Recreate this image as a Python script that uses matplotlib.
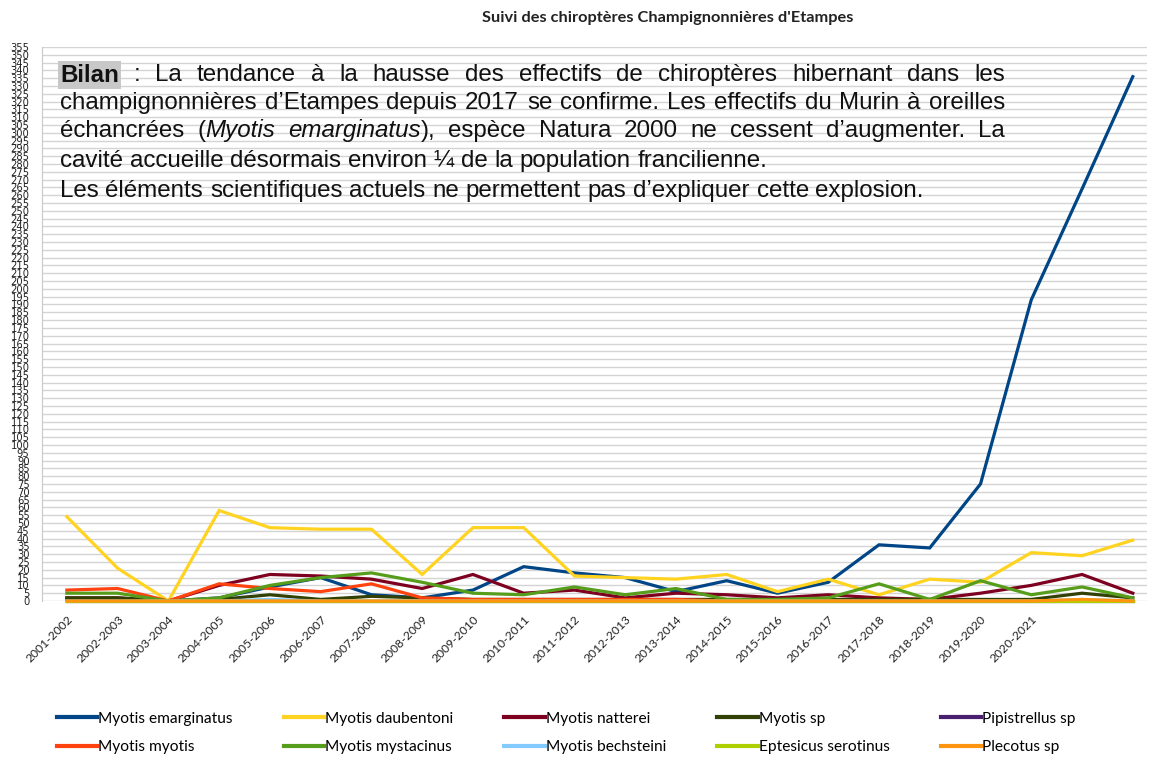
import numpy as np
import matplotlib.pyplot as plt

# Data
seasons = ['2001-2002', '2002-2003', '2003-2004', '2004-2005', '2005-2006', '2006-2007',
           '2007-2008', '2008-2009', '2009-2010', '2010-2011', '2011-2012', '2012-2013',
           '2013-2014', '2014-2015', '2015-2016', '2016-2017', '2017-2018', '2018-2019',
           '2019-2020', '2020-2021', '', '']
emarginatus = [1, 1, 0, 2, 9, 15, 4, 2, 7, 22, 18, 15, 6, 13, 5, 12, 36, 34, 75, 193, 264, 336]
daubentoni = [54, 21, 0, 58, 47, 46, 46, 17, 47, 47, 16, 15, 14, 17, 6, 14, 4, 14, 12, 31, 29, 39]
natterei = [2, 2, 0, 10, 17, 16, 14, 8, 17, 5, 7, 2, 5, 4, 2, 4, 2, 1, 5, 10, 17, 5]
myotis_sp = [2, 2, 0, 1, 4, 1, 3, 2, 1, 1, 1, 1, 1, 1, 1, 1, 1, 1, 1, 1, 5, 2]
pipistrellus = [0, 0, 0, 0, 0, 0, 0, 0, 0, 0, 0, 0, 0, 0, 0, 0, 0, 0, 0, 0, 0, 0]
myotis_myotis = [7, 8, 0, 11, 8, 6, 11, 2, 1, 1, 1, 1, 1, 0, 0, 0, 0, 0, 0, 0, 0, 0]
mystacinus = [5, 5, 0, 2, 10, 15, 18, 12, 5, 4, 9, 4, 8, 1, 1, 2, 11, 1, 13, 4, 9, 2]
bechsteini = [0, 0, 0, 0, 1, 0, 0, 0, 0, 0, 0, 0, 0, 0, 0, 0, 0, 0, 0, 0, 1, 0]
eptesicus = [0, 0, 0, 0, 0, 0, 0, 0, 0, 0, 0, 0, 0, 0, 0, 0, 0, 0, 0, 0, 0, 0]
plecotus = [0, 0, 0, 0, 0, 0, 0, 0, 0, 0, 0, 0, 0, 0, 0, 0, 0, 0, 0, 0, 1, 0]

names = ['Myotis emarginatus', 'Myotis daubentoni', 'Myotis natterei', 'Myotis sp',
         'Pipistrellus sp', 'Myotis myotis', 'Myotis mystacinus', 'Myotis bechsteini',
         'Eptesicus serotinus', 'Plecotus sp']
series = [emarginatus, daubentoni, natterei, myotis_sp, pipistrellus,
          myotis_myotis, mystacinus, bechsteini, eptesicus, plecotus]
colors = ['#004586', '#ffd320', '#7e0021', '#314004', '#4b1f6f',
          '#ff420e', '#579d1c', '#83caff', '#aecf00', '#ff950e']

W, H = 1149, 757
fig = plt.figure(figsize=(W / 100, H / 100), dpi=100)
ax = fig.add_axes([42 / W, 1 - 601 / H, (1147 - 42) / W, (601 - 47) / H])

x = np.arange(len(seasons))
lines = []
for k, (vals, name, c) in enumerate(zip(series, names, colors)):
    ln, = ax.plot(x, vals, color=c, lw=2.3, label=name, clip_on=False,
                  solid_joinstyle='miter', zorder=3 + k * 0.1)
    lines.append(ln)

ax.set_xlim(-0.49, 21.28)
ax.set_ylim(0, 355)
ax.set_yticks(np.arange(0, 356, 5))
ax.set_yticklabels([str(v) for v in range(0, 356, 5)],
                   family=['Liberation Sans Narrow', 'DejaVu Sans'], fontsize=7.2)
ax.set_xticks(x)
ax.set_xticklabels(seasons, rotation=45, ha='right', rotation_mode='anchor',
                   family=['Lato', 'DejaVu Sans'], fontsize=8.7)
ax.tick_params(axis='both', length=0, colors='#222222')
ax.tick_params(axis='y', pad=9)
ax.tick_params(axis='x', pad=9)
ax.grid(axis='y', color='#d4d4d4', lw=1.0)
ax.set_axisbelow(True)
for s in ['top', 'right', 'bottom']:
    ax.spines[s].set_visible(False)
ax.spines['left'].set_color('#c8c8c8')

fig.text(668 / W, 1 - 18 / H, "Suivi des chiroptères Champignonnières d'Etampes",
         ha='center', va='center', fontsize=11.8, fontweight='bold',
         family=['Lato', 'DejaVu Sans'], color='#222222')

# legend: 2 rows, 5 columns, filled row-wise
order = [0, 5, 1, 6, 2, 7, 3, 8, 4, 9]
leg = fig.legend([lines[i] for i in order], [names[i] for i in order], ncol=5,
                 loc='center', bbox_to_anchor=(566 / W, 1 - 733 / H), frameon=False,
                 prop={'family': ['Lato', 'DejaVu Sans'], 'size': 11.2},
                 handlelength=2.6, handletextpad=0.05, columnspacing=3.3, labelspacing=0.95)
for h in leg.legend_handles:
    h.set_linewidth(3)

# justified commentary text
renderer = fig.canvas.get_renderer()
FS = 17.4
TXT_FONT = ['Liberation Sans', 'DejaVu Sans']


def put_line(words, y, x0, x1=None):
    # words: list of words, each a list of (piece, style)
    objs = []
    for w in words:
        pieces = []
        for piece, style in w:
            kw = dict(fontsize=FS, family=TXT_FONT, va='center', ha='left', color='#111111')
            if style == 'b':
                kw['fontweight'] = 'bold'
                kw['bbox'] = dict(boxstyle='square,pad=0.1', fc='#c8c8c8', ec='none')
            if style == 'i':
                kw['fontstyle'] = 'italic'
            t = fig.text(0, 1 - y / H, piece, **kw)
            pieces.append(t)
        objs.append(pieces)
    widths = [[p.get_window_extent(renderer).width for p in w] for w in objs]
    word_w = [sum(ws) for ws in widths]
    t1 = fig.text(0, 0, 'a a', fontsize=FS, family=TXT_FONT)
    t2 = fig.text(0, 0, 'aa', fontsize=FS, family=TXT_FONT)
    space = t1.get_window_extent(renderer).width - t2.get_window_extent(renderer).width
    t1.remove()
    t2.remove()
    if x1 is not None and len(objs) > 1:
        gap = (x1 - x0 - sum(word_w)) / (len(objs) - 1)
    else:
        gap = space
    cx = x0
    for pieces, ws in zip(objs, widths):
        px = cx
        for p, pw in zip(pieces, ws):
            p.set_x(px / W)
            px += pw
        cx += sum(ws) + gap


def plain(s):
    return [[(w, 'n')] for w in s.split()]


line1 = [[('Bilan', 'b')]] + plain(':  La tendance à la hausse des effectifs de chiroptères hibernant dans les')
line2 = plain('champignonnières d’Etampes depuis 2017 se confirme. Les effectifs du Murin à oreilles')
line3 = plain('échancrées') + [[('(', 'n'), ('Myotis', 'i')], [('emarginatus', 'i'), ('),', 'n')]] + \
    plain('espèce Natura 2000 ne cessent d’augmenter. La')
line4 = plain('cavité accueille désormais environ ¼ de la population francilienne.')
line5 = plain('Les éléments scientifiques actuels ne permettent pas d’expliquer cette explosion.')

put_line(line1, 75, 60, 1005)
put_line(line2, 103, 60, 1005)
put_line(line3, 131, 60, 1005)
put_line(line4, 161, 60)
put_line(line5, 191, 60)

fig.savefig('out.png', dpi=100)
